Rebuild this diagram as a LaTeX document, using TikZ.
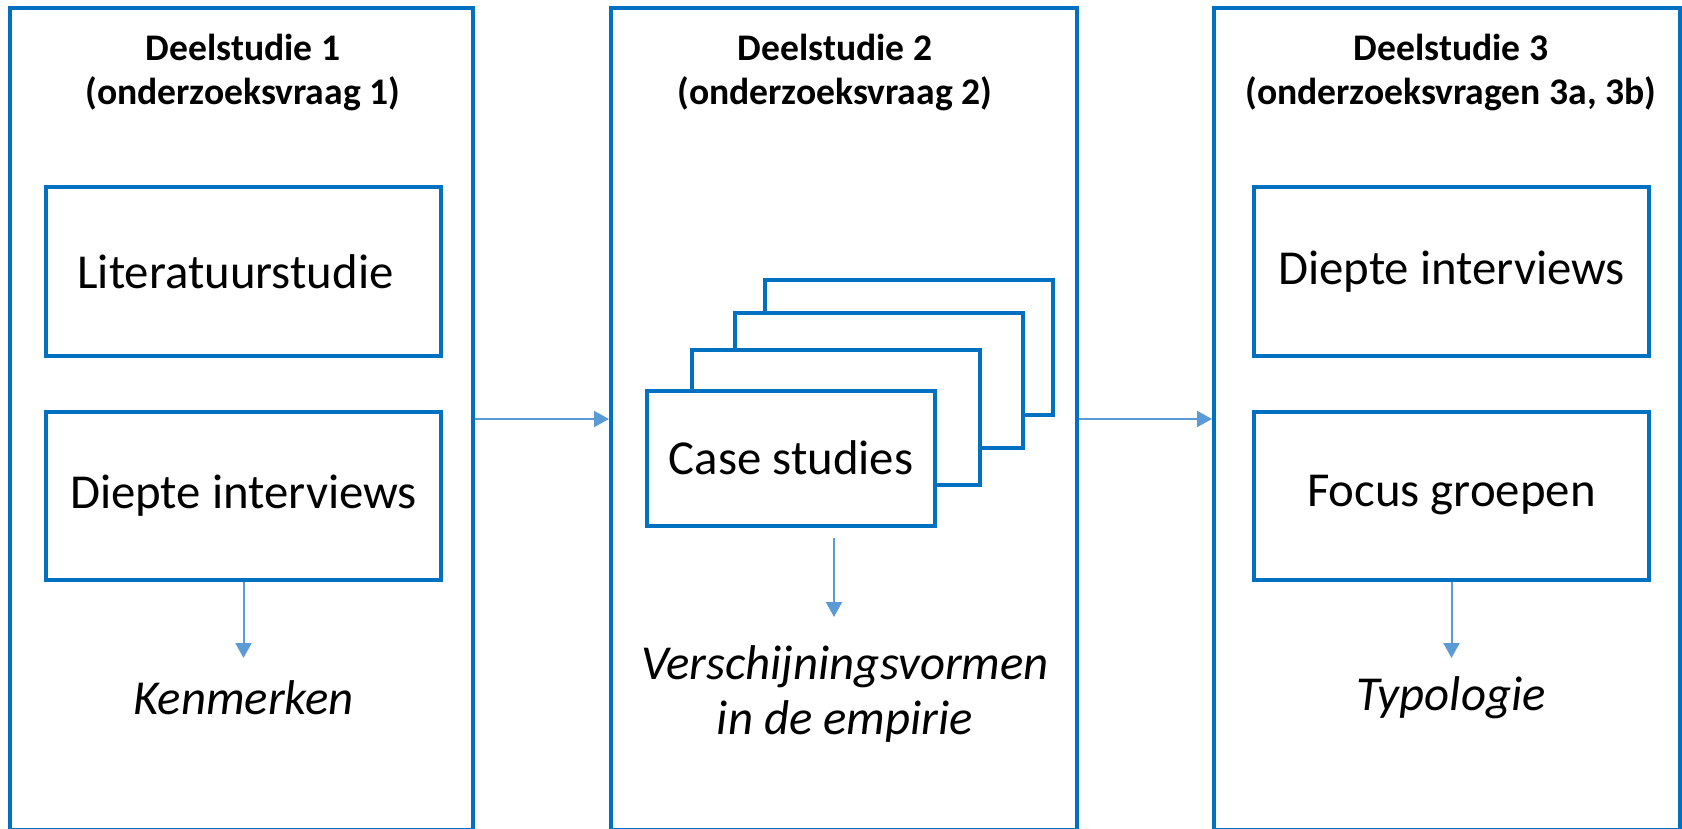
\documentclass[tikz,border=0pt]{standalone}
\usepackage{fontspec}
\setmainfont{Carlito}
\usetikzlibrary{arrows.meta}

\definecolor{frameblue}{HTML}{0070C0}
\definecolor{arrowblue}{HTML}{5B9BD5}

\begin{document}
\begin{tikzpicture}[x=0.5pt,y=-0.5pt,
    panel/.style={draw=frameblue,line width=2pt,minimum width=233pt,minimum height=411pt,inner sep=0pt},
    box/.style={draw=frameblue,line width=2pt,fill=white,minimum width=197.5pt,minimum height=84pt,font=\fontsize{24.4}{26}\selectfont},
    card/.style={box,minimum width=144pt,minimum height=67.5pt},
    flow/.style={draw=arrowblue,line width=1pt,-{Triangle[length=7.5pt,width=8pt]}},
    head/.style={align=center,font=\fontsize{18.8}{22}\selectfont\bfseries},
    result/.style={align=center,font=\fontsize{24.4}{27.5}\selectfont\itshape}]

  \clip (0,0) rectangle (1682,829);

  % drie deelstudies
  \node[panel,minimum width=231.5pt] (p1) at (241.5,419) {};
  \node[panel] (p2) at (844,419) {};
  \node[panel] (p3) at (1447,419) {};

  \node[head] (h1) at (243,72) {Deelstudie 1\\(onderzoeksvraag 1)};
  \node[head] (h2) at (835,72) {Deelstudie 2\\(onderzoeksvraag 2)};
  \node[head] (h3) at (1451,72) {Deelstudie 3\\(onderzoeksvragen 3a, 3b)};

  % methoden
  \node[box] (lit) at (243.5,271.5) {\hspace*{-8pt}Literatuurstudie};
  \node[box] (int1) at (243.5,495.5) {Diepte interviews};
  \node[box] (int3) at (1451.5,271.5) {Diepte interviews};
  \node[box] (focus) at (1451.5,495.5) {Focus groepen};

  \foreach \i/\x/\y in {4/909/347.5,3/878.5/380.5,2/836/417.5} {
    \node[card] (cs\i) at (\x,\y) {};
  }
  \node[card] (cs1) at (791,458) {Case studies};

  % uitkomsten
  \node[result] (kenm) at (243.5,698) {Kenmerken};
  \node[result] (verschijn) at (845,694) {Verschijningsvormen\\in de empirie};
  \node[result] (typo) at (1451,698) {Typologie};

  \coordinate (ktip) at (243.5,658);
  \coordinate (vtop) at (834,538);
  \coordinate (vtip) at (834,617);
  \coordinate (ttip) at (1451.5,658);

  \draw[flow] (p1.east) -- (p2.west);
  \draw[flow] (p2.east) -- (p3.west);
  \draw[flow] (int1.south) -- (ktip);
  \draw[flow] (vtop) -- (vtip);
  \draw[flow] (focus.south) -- (ttip);
\end{tikzpicture}
\end{document}
